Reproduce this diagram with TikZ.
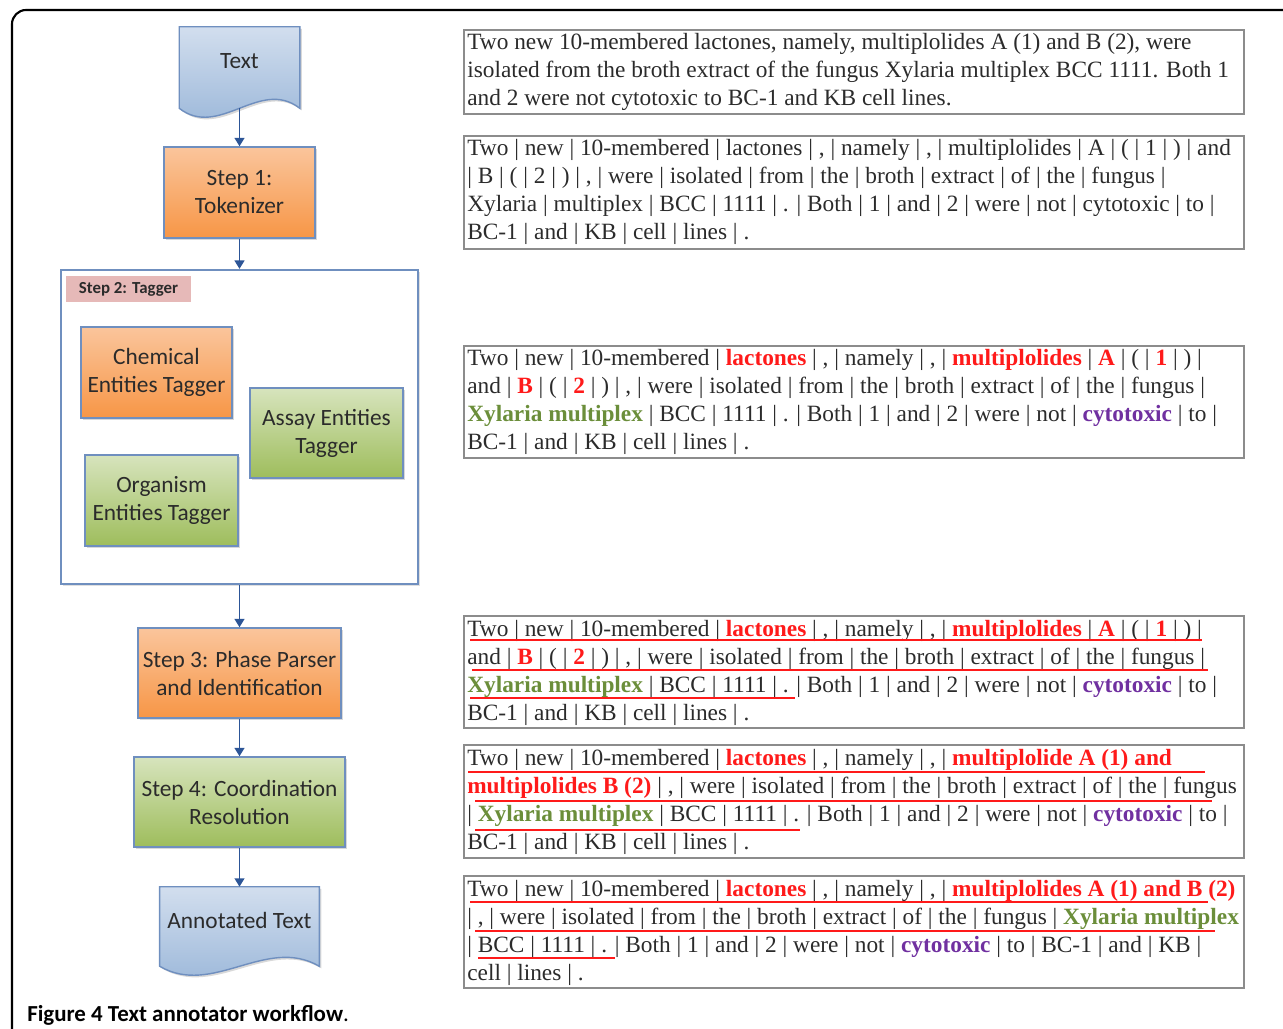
\documentclass[tikz,border=0pt]{standalone}
\usepackage{fontspec}
\setmainfont{Carlito}
\newfontfamily\timesf{Liberation Serif}
\usetikzlibrary{arrows.meta,shadows,calc,backgrounds}

\definecolor{orTop}{HTML}{FAC59C}
\definecolor{orBot}{HTML}{F79646}
\definecolor{grTop}{HTML}{D7E4BD}
\definecolor{grBot}{HTML}{9EBD5C}
\definecolor{dcTop}{HTML}{D2DEEE}
\definecolor{dcBot}{HTML}{95B3D7}
\definecolor{edge}{HTML}{6F8FBF}
\definecolor{flowblue}{HTML}{2C5597}
\definecolor{tagpink}{HTML}{E6B9B8}
\definecolor{chemred}{HTML}{FF1A1A}
\definecolor{orggreen}{HTML}{6B8E3A}
\definecolor{assaypurple}{HTML}{7030A0}
\definecolor{txtgray}{HTML}{2B2B2B}
\definecolor{framegray}{HTML}{8C8C8C}

\newcommand\chm[1]{{\bfseries\color{chemred}#1}}
\newcommand\org[1]{{\bfseries\color{orggreen}#1}}
\newcommand\asy[1]{{\bfseries\color{assaypurple}#1}}

% outline of a document symbol behind node #1, #2 = a third of its width
\newcommand\docoutline[2]{%
  \begin{pgfonlayer}{background}
  \draw[docline] (#1.north west) -- (#1.north east) -- ($(#1.south east)+(0,13)$)
    .. controls +(-#2,-31) and +(#2,31) .. ($(#1.south west)+(0,13)$) -- cycle;
  \end{pgfonlayer}
  \coordinate (#1-w) at ($(#1.south)+(0,13)$);}

\tikzset{
  stepbox/.style={draw=edge, line width=1pt, align=center, text=txtgray,
    font=\fontsize{16.6}{19.9}\selectfont,
    drop shadow={shadow xshift=1.5pt, shadow yshift=-1.5pt, opacity=0.3}},
  orbox/.style={stepbox, top color=orTop, bottom color=orBot},
  grbox/.style={stepbox, top color=grTop, bottom color=grBot},
  docnode/.style={inner sep=0pt, align=center, text=txtgray, font=\fontsize{16.6}{19.9}\selectfont},
  docline/.style={draw=edge, line width=1pt, top color=dcTop, bottom color=dcBot,
    drop shadow={shadow xshift=1.5pt, shadow yshift=-1.5pt, opacity=0.3}},
  flow/.style={draw=flowblue, line width=1.2pt, -{Triangle[length=6pt,width=7pt]}},
  textframe/.style={draw=framegray, line width=1.4pt},
  tline/.style={anchor=base west, inner sep=0pt, text=txtgray, font=\timesf\fontsize{16.6}{19.9}\selectfont},
  uline/.style={draw=chemred, line width=2pt}
}

\begin{document}
\begin{tikzpicture}[x=0.025cm,y=-0.025cm]
  \useasboundingbox (0,0) rectangle (1283,1029);
  \draw[line width=1.5pt, rounded corners=10pt] (1283,10) -- (12,10) -- (12,1029);

  % workflow
  \node[docnode, minimum width=3cm, minimum height=1.7cm] (txt) at (239.5,61) {Text};
  \docoutline{txt}{40}
  \node[orbox, minimum width=3.775cm, minimum height=2.275cm] (step1) at (239.5,192.5) {Step 1:\\Tokenizer};
  \node[draw=edge, line width=1.5pt, fill=white, minimum width=8.925cm, minimum height=7.85cm,
    drop shadow={shadow xshift=1.5pt, shadow yshift=-1.5pt, opacity=0.25}] (tagger) at (239.5,427) {};
  \node[fill=tagpink, minimum width=3.125cm, minimum height=0.65cm, text=txtgray,
    font=\bfseries\fontsize{12}{14}\selectfont] (taglbl) at (128.5,289) {Step 2: Tagger};
  \node[orbox, minimum width=3.775cm, minimum height=2.275cm] (chem) at (156.5,372.5) {Chemical\\Entities Tagger};
  \node[grbox, minimum width=3.825cm, minimum height=2.25cm] (assay) at (326.5,433) {Assay Entities\\Tagger};
  \node[grbox, minimum width=3.825cm, minimum height=2.275cm] (organism) at (161.5,500.5) {Organism\\Entities Tagger};
  \node[orbox, minimum width=5.075cm, minimum height=2.25cm] (step3) at (239.5,673) {Step 3: Phase Parser\\and Identification};
  \node[grbox, minimum width=5.275cm, minimum height=2.25cm] (step4) at (239.5,802) {Step 4: Coordination\\Resolution};
  \node[docnode, minimum width=3.975cm, minimum height=1.65cm] (annot) at (239.5,920) {Annotated Text};
  \docoutline{annot}{53}

  \draw[flow] (txt-w) -- (step1);
  \draw[flow] (step1) -- (tagger);
  \draw[flow] (tagger) -- (step3);
  \draw[flow] (step3) -- (step4);
  \draw[flow] (step4) -- (annot);

  % input sentence
  \draw[textframe] (464,30) rectangle (1244,114);
  \node[tline] (r0a) at (467,50) {Two new 10-membered lactones, namely, multiplolides A (1) and B (2), were};
  \node[tline] (r0b) at (467,78) {isolated from the broth extract of the fungus Xylaria multiplex BCC 1111. Both 1};
  \node[tline] (r0c) at (467,106) {and 2 were not cytotoxic to BC-1 and KB cell lines.};

  % tokens
  \draw[textframe] (464,136) rectangle (1244,249);
  \node[tline] (r1a) at (467,156) {Two | new | 10-membered | lactones | , | namely | , | multiplolides | A | ( | 1 | ) | and};
  \node[tline] (r1b) at (467,184) {| B | ( | 2 | ) | , | were | isolated | from | the | broth | extract | of | the | fungus |};
  \node[tline] (r1c) at (467,212) {Xylaria | multiplex | BCC | 1111 | . | Both | 1 | and | 2 | were | not | cytotoxic | to |};
  \node[tline] (r1d) at (467,240) {BC-1 | and | KB | cell | lines | .};

  % tagged
  \draw[textframe] (464,346) rectangle (1244,458);
  \node[tline] (r2a) at (467,366) {Two | new | 10-membered | \chm{lactones} | , | namely | , | \chm{multiplolides} | \chm{A} | ( | \chm{1} | ) |};
  \node[tline] (r2b) at (467,394) {and | \chm{B} | ( | \chm{2} | ) | , | were | isolated | from | the | broth | extract | of | the | fungus |};
  \node[tline] (r2c) at (467,422) {\org{Xylaria multiplex} | BCC | 1111 | . | Both | 1 | and | 2 | were | not | \asy{cytotoxic} | to |};
  \node[tline] (r2d) at (467,450) {BC-1 | and | KB | cell | lines | .};

  % phrases
  \draw[textframe] (464,616) rectangle (1244,728);
  \node[tline] (r3a) at (467,636) {Two | new | 10-membered | \chm{lactones} | , | namely | , | \chm{multiplolides} | \chm{A} | ( | \chm{1} | ) |};
  \node[tline] (r3b) at (467,664) {and | \chm{B} | ( | \chm{2} | ) | , | were | isolated | from | the | broth | extract | of | the | fungus |};
  \node[tline] (r3c) at (467,692) {\org{Xylaria multiplex} | BCC | 1111 | . | Both | 1 | and | 2 | were | not | \asy{cytotoxic} | to |};
  \node[tline] (r3d) at (467,720) {BC-1 | and | KB | cell | lines | .};
  \draw[uline] (470,640) -- (1202,640);
  \draw[uline] (472,670) -- (1208,670);
  \draw[uline] (470,698) -- (795,698);

  % coordination
  \draw[textframe] (464,745) rectangle (1244,858);
  \node[tline] (r4a) at (467,765) {Two | new | 10-membered | \chm{lactones} | , | namely | , | \chm{multiplolide A (1) and}};
  \node[tline] (r4b) at (467,793) {\chm{multiplolides B (2)} | , | were | isolated | from | the | broth | extract | of | the | fungus};
  \node[tline] (r4c) at (467,821) {| \org{Xylaria multiplex} | BCC | 1111 | . | Both | 1 | and | 2 | were | not | \asy{cytotoxic} | to |};
  \node[tline] (r4d) at (467,849) {BC-1 | and | KB | cell | lines | .};
  \draw[uline] (468,772) -- (1205,772);
  \draw[uline] (475,801) -- (1212,801);
  \draw[uline] (475,830) -- (800,830);

  % annotated
  \draw[textframe] (464,876) rectangle (1244,988);
  \node[tline] (r5a) at (467,896) {Two | new | 10-membered | \chm{lactones} | , | namely | , | \chm{multiplolides A (1) and B (2)}};
  \node[tline] (r5b) at (467,924) {| , | were | isolated | from | the | broth | extract | of | the | fungus | \org{Xylaria multiplex}};
  \node[tline] (r5c) at (467,952) {| BCC | 1111 | . | Both | 1 | and | 2 | were | not | \asy{cytotoxic} | to | BC-1 | and | KB |};
  \node[tline] (r5d) at (467,980) {cell | lines | .};
  \draw[uline] (470,902) -- (1208,902);
  \draw[uline] (475,931) -- (1215,931);
  \draw[uline] (478,958) -- (615,958);

  \node[anchor=base west, inner sep=0pt, font=\fontsize{16.3}{18}\selectfont] (caption) at (27,1021)
    {\textbf{Figure 4 Text annotator workflow}.};
\end{tikzpicture}
\end{document}
